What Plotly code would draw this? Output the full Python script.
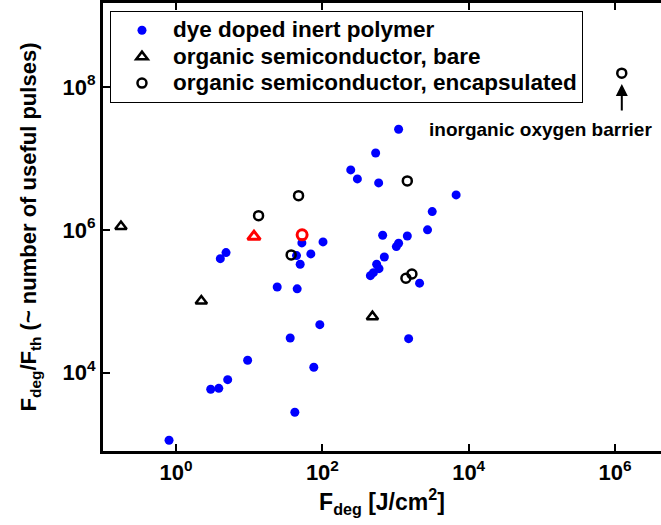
import plotly.graph_objects as go

# Dye doped inert polymer: degradation fluence [J/cm^2] and F_deg/F_th
dye_fdeg = [0.80, 2.97, 3.83, 5.07, 9.5, 24.1, 45.2, 92.2, 36.3, 76.3, 42,
            4.02, 4.81, 52.4, 102, 44.3, 69.5, 49.7, 1102, 535, 244, 301,
            588, 6740, 3176, 2740, 667, 1449, 1026, 1102, 703, 552, 594,
            498, 453, 2132, 1510]
dye_ratio = [1130, 5860, 6030, 7980, 1.49e4, 1.58e5, 1.49e5, 4.7e4, 3.06e4,
             1.19e4, 2790, 3.95e5, 4.8e5, 6.56e5, 6.77e5, 4.36e5, 4.6e5,
             3.3e5, 2.56e7, 1.19e7, 6.9e6, 5.16e6, 4.54e6, 3.08e6, 1.8e6,
             1.0e6, 8.4e5, 8.2e5, 5.82e5, 6.49e5, 4.17e5, 3.3e5, 2.86e5,
             2.51e5, 2.28e5, 1.79e5, 2.99e4]

# Organic semiconductor, bare
bare_fdeg = [0.176, 2.21, 483]
bare_ratio = [1.11e6, 1.01e5, 6.08e4]

# Organic semiconductor, encapsulated
enc_fdeg = [13.4, 47.2, 37.4, 1449, 1387, 1675, 1.24e6]
enc_ratio = [1.58e6, 3.01e6, 4.45e5, 4.84e6, 2.1e5, 2.41e5, 1.56e8]

# Highlighted samples (red)
hl_bare_fdeg = [11.6]
hl_bare_ratio = [8.04e5]
hl_enc_fdeg = [52.8]
hl_enc_ratio = [8.5e5]

legend_names = ["dye doped inert polymer",
                "organic semiconductor, bare",
                "organic semiconductor, encapsulated"]

# Tick positions (decades) and their labels
x_tick_exp = [0, 2, 4, 6]
y_tick_exp = [4, 6, 8]
x_tick_text = ["<b>10<sup>%d</sup></b>" % e for e in x_tick_exp]
y_tick_text = ["<b>10<sup>%d</sup></b>" % e for e in y_tick_exp]

FONT = "Liberation Sans, Arial, Helvetica, sans-serif"


def legend_label(name):
    # larger glyphs while keeping the compact legend row spacing
    return '<span style="font-size:22.5px"><b>%s</b></span>' % name


fig = go.Figure()
fig.add_trace(go.Scatter(
    x=dye_fdeg, y=dye_ratio, mode="markers", name=legend_label(legend_names[0]),
    marker=dict(symbol="circle", size=9, color="#0000ff", line=dict(width=0))))
fig.add_trace(go.Scatter(
    x=bare_fdeg, y=bare_ratio, mode="markers", name=legend_label(legend_names[1]),
    marker=dict(symbol="triangle-up-open", size=10, color="black",
                line=dict(width=2.5, color="black"))))
fig.add_trace(go.Scatter(
    x=enc_fdeg, y=enc_ratio, mode="markers", name=legend_label(legend_names[2]),
    marker=dict(symbol="circle-open", size=9, color="black",
                line=dict(width=2.5, color="black"))))
fig.add_trace(go.Scatter(
    x=hl_bare_fdeg, y=hl_bare_ratio, mode="markers", showlegend=False,
    marker=dict(symbol="triangle-up-open", size=11, color="red",
                line=dict(width=3, color="red"))))
fig.add_trace(go.Scatter(
    x=hl_enc_fdeg, y=hl_enc_ratio, mode="markers", showlegend=False,
    marker=dict(symbol="circle-open", size=10, color="red",
                line=dict(width=3, color="red"))))

fig.add_annotation(
    x=3.434, y=7.40, xref="x", yref="y", text="<b>inorganic oxygen barrier</b>",
    showarrow=False, xanchor="left", yanchor="middle",
    font=dict(family=FONT, size=19, color="black"))
fig.add_annotation(
    x=6.094, y=8.042, xref="x", yref="y", text="", showarrow=True,
    ax=0, ay=28, arrowhead=2, arrowsize=1.2, arrowwidth=2, arrowcolor="black")

axis_common = dict(
    type="log", showline=True, linecolor="black", linewidth=3,
    ticks="inside", ticklen=7, tickwidth=2, tickcolor="black",
    showgrid=False, zeroline=False, tickmode="array",
    tickfont=dict(family=FONT, size=22, color="black"),
)

fig.update_layout(
    width=661, height=525,
    margin=dict(l=103, r=0, t=3, b=74),
    paper_bgcolor="white", plot_bgcolor="white",
    font=dict(family=FONT, color="black"),
    xaxis=dict(**axis_common, range=[-1.0, 6.63], mirror="ticks",
               tickvals=[10.0 ** e for e in x_tick_exp], ticktext=x_tick_text,
               title=dict(text="<b>F<sub>deg</sub> [J/cm<sup>2</sup>]</b>",
                          font=dict(family=FONT, size=23), standoff=6)),
    yaxis=dict(**axis_common, range=[2.903, 9.176], mirror=False,
               tickvals=[10.0 ** e for e in y_tick_exp], ticktext=y_tick_text,
               title=dict(text="<b>F<sub>deg</sub>/F<sub>th</sub> (~ number of useful pulses)</b>",
                          font=dict(family=FONT, size=22), standoff=20)),
    legend=dict(
        x=0.0125, y=0.982, xanchor="left", yanchor="top",
        bgcolor="white", bordercolor="black", borderwidth=1,
        font=dict(family=FONT, size=18, color="black"),
        itemwidth=52, tracegroupgap=0),
    showlegend=True,
)

fig.write_html("out.html")
